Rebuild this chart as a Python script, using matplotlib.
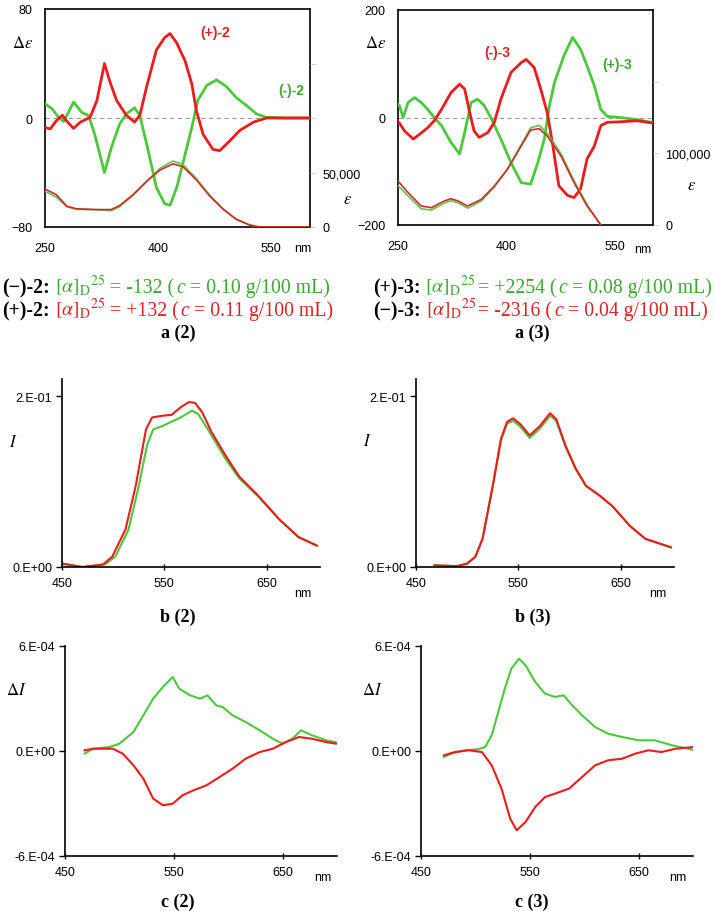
import numpy as np
import matplotlib
matplotlib.use("Agg")
import matplotlib.pyplot as plt

plt.rcParams['font.family'] = ['Liberation Sans', 'DejaVu Sans']
plt.rcParams['mathtext.fontset'] = 'stix'

RED = '#ec1c1c'
GREEN = '#4cc83c'
RED_T = '#d92424'
GREEN_T = '#3ca832'

# ---- a(2): CD (delta eps) and UV (eps) ----
a2_cd_x = [250, 257, 265, 273, 280, 288, 297, 310, 319, 329, 336, 345, 358, 369, 376, 385,
           398, 409, 416, 425, 436, 445, 451, 460, 473, 482, 495, 509, 527, 544, 570, 602]
a2_cd_plus = [-7, -8, -2, 2, -3, -7.6, -3, 0.5, 13, 40, 27, 13, 2, -3, 2, 23,
              50, 59, 62, 55, 42, 25, 5.5, -12, -23, -24, -17, -9, -3, 0, 0, 0]
a2_cd_minus_x = [250, 259, 268, 275, 288, 299, 308, 316, 329, 338, 349, 358, 369, 376, 385,
                 398, 409, 416, 425, 436, 445, 453, 465, 478, 491, 504, 518, 531, 544, 570, 602]
a2_cd_minus = [10.4, 7, 0.5, -2.5, 11.7, 4, 1.7, -12, -40, -22, -4.5, 3, 7.5, 1.7, -19,
               -51, -63, -64, -51, -27, -7, 13, 24, 28, 23, 15, 9, 3, 0.5, 0, 0]
a2_eps_x = [250, 265, 279, 292, 319, 338, 349, 367, 385, 403, 420, 433, 451, 469, 487, 504, 522, 535, 602]
a2_eps_plus = [34800, 29700, 19100, 16700, 16000, 16000, 19700, 29700, 41800, 52400, 57900,
               55400, 43300, 28200, 16000, 7000, 1800, 0, 0]
a2_eps_minus = [32700, 27500, 18500, 16200, 15800, 15000, 18500, 29000, 42000, 54000, 60500,
                57500, 44500, 29000, 16500, 7200, 1800, 0, 0]

# ---- a(3) ----
a3_cd_minus_x = [250, 252, 259, 271, 280, 291, 300, 310, 323, 335, 342, 349, 355, 362, 374, 383,
                 392, 406, 420, 427, 438, 447, 456, 463, 472, 484, 493, 502, 511, 521, 530,
                 539, 557, 580, 600]
a3_cd_minus = [-8, -10.5, -25, -40, -31, -19, -6, 15, 46, 62, 53, 9, -25, -37, -28, -9,
               34, 84, 102, 108, 93, 53, 9, -46, -127, -145, -149, -133, -77, -53, -15,
               -9, -8, -6, -10]
a3_cd_plus_x = [250, 252, 257, 264, 273, 282, 291, 300, 310, 323, 335, 342, 351, 360, 369, 378,
                392, 406, 420, 433, 443, 452, 459, 466, 479, 491, 502, 511, 521, 530, 539,
                557, 580, 600]
a3_cd_plus = [25, 22, 0, 28, 37, 28, 15, 0, -15, -46, -68, -28, 28, 34, 22, 0,
              -40, -84, -121, -124, -84, -40, 22, 65, 115, 149, 127, 96, 59, 15, 2,
              0, -4, -9]
a3_eps_x = [250, 264, 282, 296, 314, 323, 333, 346, 365, 383, 401, 420, 433, 445, 456, 475, 493, 511, 530]
a3_eps_minus = [61400, 45100, 26500, 24200, 33500, 36700, 33500, 26500, 35800, 54400, 77700,
                110200, 132500, 134400, 124200, 96300, 59100, 26500, 0]
a3_eps_plus = [55000, 40500, 22500, 21000, 30500, 34000, 31000, 23500, 33500, 53000, 78000,
               112000, 135500, 139000, 128000, 99500, 62000, 28500, 0]

# ---- b: luminescence ----
b2_x_red = [450, 470, 490, 499, 512, 522, 532, 538, 548, 557, 566, 574, 580, 587, 596, 610,
            623, 642, 662, 681, 699]
b2_red = [0.004, 0.0, 0.003, 0.012, 0.044, 0.095, 0.161, 0.175, 0.177, 0.178, 0.187, 0.193,
          0.192, 0.181, 0.158, 0.130, 0.106, 0.083, 0.056, 0.035, 0.025]
b2_x_green = [450, 470, 492, 502, 515, 525, 533, 539, 548, 557, 566, 577, 583, 593, 610,
              623, 642, 662, 681, 699]
b2_green = [0.004, 0.0, 0.003, 0.012, 0.044, 0.095, 0.142, 0.161, 0.165, 0.170, 0.175, 0.183,
            0.179, 0.160, 0.126, 0.104, 0.082, 0.056, 0.035, 0.025]

b3_x = [468, 490, 500, 508, 515, 525, 533, 539, 545, 552, 561, 571, 581, 587, 596, 606,
        616, 630, 642, 659, 674, 699]
b3_red = [0.002, 0.001, 0.004, 0.012, 0.033, 0.095, 0.150, 0.170, 0.174, 0.167, 0.154, 0.165,
          0.180, 0.173, 0.142, 0.115, 0.095, 0.083, 0.071, 0.048, 0.033, 0.023]
b3_green = [0.002, 0.001, 0.004, 0.012, 0.033, 0.095, 0.148, 0.168, 0.171, 0.164, 0.151, 0.162,
            0.177, 0.171, 0.141, 0.115, 0.095, 0.083, 0.071, 0.048, 0.033, 0.023]

# ---- c: CPL (delta I), in units of 1e-4 ----
c2_x_green = [468, 476, 491, 500, 513, 522, 531, 540, 549, 555, 565, 574, 581, 589, 595, 604,
              616, 629, 641, 650, 659, 667, 677, 690, 699]
c2_green = [-0.15, 0.13, 0.23, 0.42, 1.09, 2.04, 2.99, 3.66, 4.23, 3.56, 3.18, 2.99, 3.18, 2.61,
            2.51, 2.04, 1.66, 1.18, 0.70, 0.42, 0.70, 1.18, 0.90, 0.61, 0.50]
c2_x_red = [468, 476, 494, 503, 513, 522, 531, 540, 549, 558, 568, 580, 592, 604, 616, 629,
            641, 653, 665, 677, 690, 699]
c2_red = [0.04, 0.13, 0.13, -0.15, -0.82, -1.58, -2.72, -3.10, -3.01, -2.53, -2.25, -1.96,
          -1.49, -1.01, -0.44, -0.06, 0.13, 0.51, 0.80, 0.70, 0.51, 0.42]

c3_x_green = [471, 478, 490, 503, 509, 515, 521, 527, 533, 540, 546, 555, 564, 573, 581, 589,
              598, 610, 622, 635, 650, 665, 681, 696, 701]
c3_green = [-0.34, -0.15, 0.04, 0.10, 0.23, 0.90, 2.23, 3.56, 4.70, 5.28, 4.90, 3.94, 3.28,
            3.09, 3.18, 2.61, 2.04, 1.37, 0.99, 0.80, 0.61, 0.61, 0.32, 0.13, 0.04]
c3_x_red = [471, 481, 494, 506, 515, 524, 532, 538, 546, 555, 564, 573, 586, 598, 610, 622,
            635, 647, 659, 671, 684, 701]
c3_red = [-0.25, -0.06, 0.04, -0.06, -0.82, -2.15, -3.87, -4.53, -4.06, -3.20, -2.63, -2.44,
          -2.15, -1.49, -0.82, -0.53, -0.44, -0.15, 0.04, -0.06, 0.13, 0.23]

W, H = 714, 912
fig = plt.figure(figsize=(W / 100, H / 100), dpi=100)


def px_axes(left, top, right, bottom):
    return fig.add_axes([left / W, 1 - bottom / H, (right - left) / W, (bottom - top) / H])


def ftext(x, y, s, **kw):
    return fig.text(x / W, 1 - y / H, s, **kw)


TICK = 9


def cd_panel(box, ylim, eps_lim, eps_ticks, eps_labels, series, eps_series):
    ax = px_axes(*box)
    ax.axhline(0, color='#9a9a9a', ls='--', lw=0.8, dashes=(4, 3), zorder=1)
    for x, y, c in series:
        ax.plot(x, y, color=c, lw=2.0, zorder=3)
    ax.set_xlim(250, 602)
    ax.set_ylim(*ylim)
    ax.set_xticks([250, 400, 550])
    ax.set_yticks([ylim[0], 0, ylim[1]])
    ax.tick_params(axis='both', length=0, labelsize=TICK)
    ax.tick_params(axis='y', pad=9)
    ax.tick_params(axis='x', pad=11)
    for sp in ax.spines.values():
        sp.set_linewidth(1.2)
    ax2 = ax.twinx()
    for x, y, c in eps_series:
        ax2.plot(x, y, color=c, lw=1.2)
    ax2.set_ylim(0, eps_lim)
    ax2.set_yticks(eps_ticks, eps_labels)
    ax2.tick_params(axis='y', length=4, width=0.6, color='#cccccc', labelsize=TICK, pad=5)
    for sp in ax2.spines.values():
        sp.set_visible(False)
    return ax


cd_panel((45, 10, 310, 228), (-80, 80), 200000,
         [0, 50000, 100000, 150000], ['0', '50,000', '', ''],
         [(a2_cd_minus_x, a2_cd_minus, GREEN), (a2_cd_x, a2_cd_plus, RED)],
         [(a2_eps_x, a2_eps_minus, '#5cc84c'), (a2_eps_x, a2_eps_plus, '#d22a2a')])
cd_panel((398, 11, 653, 226), (-200, 200), 300000,
         [0, 100000, 200000], ['0', '100,000', ''],
         [(a3_cd_plus_x, a3_cd_plus, GREEN), (a3_cd_minus_x, a3_cd_minus, RED)],
         [(a3_eps_x, a3_eps_plus, '#5cc84c'), (a3_eps_x, a3_eps_minus, '#d22a2a')])

serif = 'Liberation Serif'
ftext(23, 43, r'$\Delta\varepsilon$', fontsize=12, ha='center', va='center')
ftext(376, 43, r'$\Delta\varepsilon$', fontsize=12, ha='center', va='center')
ftext(348, 200, r'$\varepsilon$', fontsize=12, ha='center', va='center')
ftext(692, 185, r'$\varepsilon$', fontsize=12, ha='center', va='center')
ftext(303, 249, 'nm', fontsize=TICK, ha='center', va='center')
ftext(643, 250, 'nm', fontsize=TICK, ha='center', va='center')
ftext(215, 33, '(+)-2', fontsize=10, weight='bold', color=RED_T, ha='center', va='center')
ftext(291, 91, '(-)-2', fontsize=10, weight='bold', color=GREEN_T, ha='center', va='center')
ftext(497, 53, '(-)-3', fontsize=10, weight='bold', color=RED_T, ha='center', va='center')
ftext(617, 65, '(+)-3', fontsize=10, weight='bold', color=GREEN_T, ha='center', va='center')


def line_panel(box, xlim, ylim, yticks, ylabels, series):
    ax = px_axes(*box)
    for x, y, c in series:
        ax.plot(x, y, color=c, lw=1.5)
    ax.set_xlim(*xlim)
    ax.set_ylim(*ylim)
    ax.set_xticks([450, 550, 650])
    ax.set_yticks(yticks, ylabels)
    ax.spines['top'].set_visible(False)
    ax.spines['right'].set_visible(False)
    ax.spines['left'].set_linewidth(1.2)
    ax.spines['bottom'].set_linewidth(1.2)
    ax.tick_params(axis='y', direction='out', length=4, width=1, labelsize=TICK, pad=3)
    ax.tick_params(axis='x', direction='inout', length=5, width=1, labelsize=TICK, pad=5)
    return ax


line_panel((62, 380, 320, 568), (450, 702), (0, 0.22), [0, 0.2], ['0.E+00', '2.E-01'],
           [(b2_x_green, b2_green, GREEN), (b2_x_red, b2_red, RED)])
line_panel((416, 380, 674, 568), (450, 702), (0, 0.22), [0, 0.2], ['0.E+00', '2.E-01'],
           [(b3_x, b3_green, GREEN), (b3_x, b3_red, RED)])
e4 = 1e-4
line_panel((65, 647, 337, 857), (450, 700), (-6 * e4, 6 * e4), [-6 * e4, 0, 6 * e4],
           ['-6.E-04', '0.E+00', '6.E-04'],
           [(c2_x_green, np.array(c2_green) * e4, GREEN), (c2_x_red, np.array(c2_red) * e4, RED)])
line_panel((421, 647, 693, 857), (450, 700), (-6 * e4, 6 * e4), [-6 * e4, 0, 6 * e4],
           ['-6.E-04', '0.E+00', '6.E-04'],
           [(c3_x_green, np.array(c3_green) * e4, GREEN), (c3_x_red, np.array(c3_red) * e4, RED)])

ftext(13, 442, r'$I$', fontsize=12, ha='center', va='center')
ftext(367, 441, r'$I$', fontsize=12, ha='center', va='center')
ftext(16, 690, r'$\Delta I$', fontsize=12, ha='center', va='center')
ftext(372, 690, r'$\Delta I$', fontsize=12, ha='center', va='center')
ftext(303, 594, 'nm', fontsize=TICK, ha='center', va='center')
ftext(658, 594, 'nm', fontsize=TICK, ha='center', va='center')
ftext(323, 878, 'nm', fontsize=TICK, ha='center', va='center')
ftext(678, 878, 'nm', fontsize=TICK, ha='center', va='center')

for x, y, s in [(178, 333, 'a (2)'), (532, 333, 'a (3)'), (178, 617, 'b (2)'),
                (533, 617, 'b (3)'), (178, 902, 'c (2)'), (532, 902, 'c (3)')]:
    ftext(x, y, s, fontsize=13, weight='bold', family=serif, ha='center', va='center')

# rotation lines under the CD panels, drawn piece by piece
renderer = fig.canvas.get_renderer()
CAP = 14.2
space_px = CAP * 100 / 72 * 0.25
alpha_txt = r'$[\alpha]_{\mathrm{D}}{}^{25}$'


def rich_line(x0, y0, parts):
    x = x0
    for s, color, style, gap in parts:
        t = ftext(x, y0, s, fontsize=CAP, color=color, family=serif, ha='left',
                  va='baseline', **style)
        x += t.get_window_extent(renderer).width + (space_px if gap else 2)


BOLD = {'weight': 'bold'}
ITAL = {'style': 'italic'}
rich_line(2, 293, [('(\u2212)-2:', 'black', BOLD, True), (alpha_txt, GREEN_T, {}, True),
                   ('= -132 (', GREEN_T, {}, False), ('c', GREEN_T, ITAL, True),
                   ('= 0.10 g/100 mL)', GREEN_T, {}, False)])
rich_line(2, 316, [('(+)-2:', 'black', BOLD, True), (alpha_txt, RED_T, {}, True),
                   ('= +132 (', RED_T, {}, False), ('c', RED_T, ITAL, True),
                   ('= 0.11 g/100 mL)', RED_T, {}, False)])
rich_line(373, 293, [('(+)-3:', 'black', BOLD, True), (alpha_txt, GREEN_T, {}, False),
                     ('= +2254 (', GREEN_T, {}, False), ('c', GREEN_T, ITAL, True),
                     ('= 0.08 g/100 mL)', GREEN_T, {}, False)])
rich_line(373, 316, [('(\u2212)-3:', 'black', BOLD, True), (alpha_txt, RED_T, {}, False),
                     ('= -2316 (', RED_T, {}, False), ('c', RED_T, ITAL, True),
                     ('= 0.04 g/100 mL)', RED_T, {}, False)])

fig.savefig('out.png', dpi=100)
